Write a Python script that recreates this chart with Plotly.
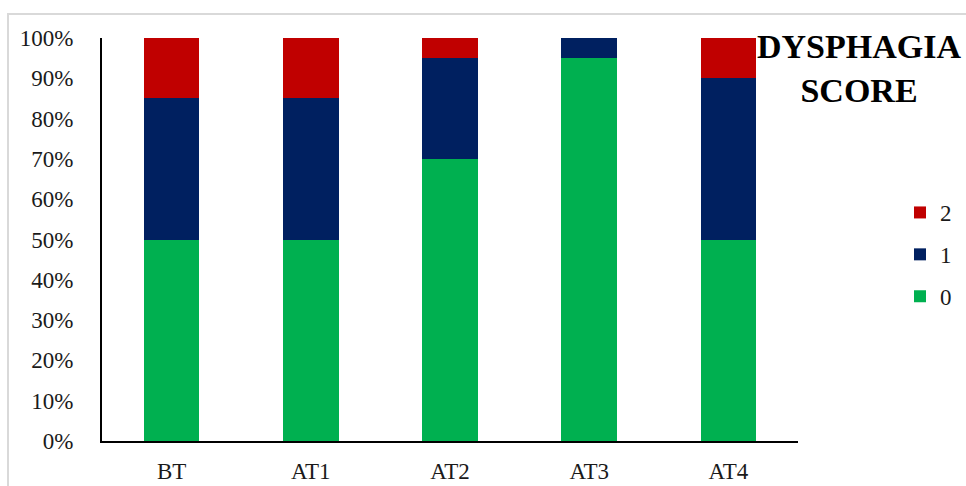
import plotly.graph_objects as go

categories = ["BT", "AT1", "AT2", "AT3", "AT4"]
score0 = [0.50, 0.50, 0.70, 0.95, 0.50]
score1 = [0.35, 0.35, 0.25, 0.05, 0.40]
score2 = [0.15, 0.15, 0.05, 0.00, 0.10]
series_names = ["0", "1", "2"]
colors = ["#00B050", "#002060", "#C00000"]

W, H = 966, 486
L, R, T, B = 102, 798, 38, 441
pw, ph = R - L, B - T

fig = go.Figure()
for i, (name, vals, col) in enumerate(zip(series_names, [score0, score1, score2], colors)):
    fig.add_trace(go.Bar(x=categories, y=vals, name=name, legendgroup=name, legendrank=10 - i,
                         marker=dict(color=col, line=dict(width=0))))

font_family = "Liberation Serif, Times New Roman, serif"

fig.update_layout(
    width=W, height=H,
    barmode="stack", bargap=0.6,
    margin=dict(l=L, r=W - R, t=T, b=H - B, pad=0, autoexpand=False),
    plot_bgcolor="white", paper_bgcolor="white",
    font=dict(family=font_family, size=23, color="#1a1a1a"),
    xaxis=dict(showline=True, linecolor="black", linewidth=2, ticks="", showgrid=False,
               automargin=False, ticklabelstandoff=8, tickfont=dict(size=23)),
    yaxis=dict(range=[0, 1], dtick=0.1, tickformat=".0%", showline=True, linecolor="black",
               linewidth=2, ticks="", showgrid=False, zeroline=False, ticklabelstandoff=22,
               automargin=False, tickfont=dict(size=23)),
    legend=dict(traceorder="grouped", xref="container", yref="container",
                x=900 / W, y=1 - 191 / H,
                xanchor="left", yanchor="top",
                font=dict(size=23), itemwidth=30, tracegroupgap=9, bgcolor="rgba(0,0,0,0)"),
    showlegend=True,
)

fig.add_annotation(text="<b>DYSPHAGIA<br>SCORE</b>", xref="paper", yref="paper",
                   x=(859 - L) / pw, y=(B - 68) / ph, xanchor="center", yanchor="middle",
                   showarrow=False, font=dict(family=font_family, size=34, color="black"))

fig.add_shape(type="rect", xref="paper", yref="paper",
              x0=(8 - L) / pw, y0=-0.3, x1=1.4, y1=(B - 14) / ph,
              line=dict(color="#d9d9d9", width=2), fillcolor="rgba(0,0,0,0)", layer="below")

fig.write_html("out.html")
